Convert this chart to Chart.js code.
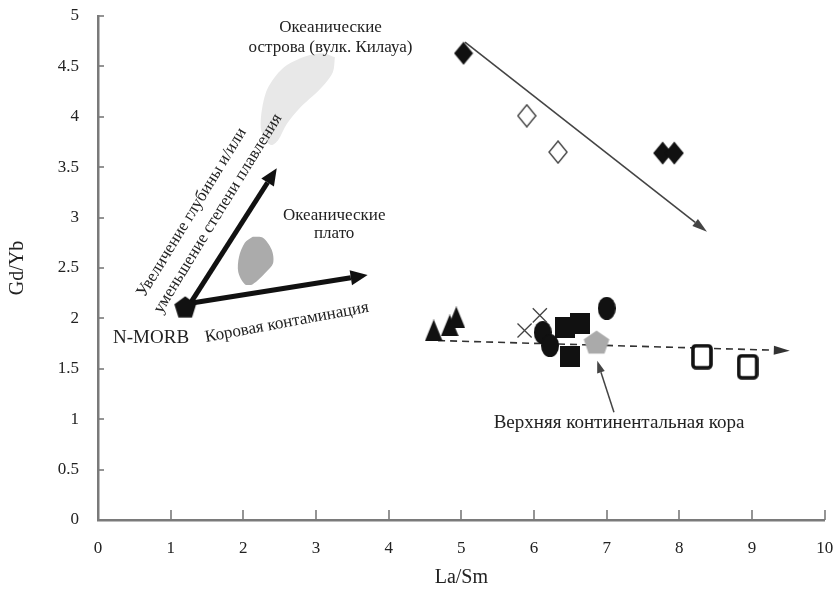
<!DOCTYPE html>
<html>
<head>
<meta charset="utf-8">
<script src="https://cdn.jsdelivr.net/npm/chart.js@4.4.1/dist/chart.umd.min.js"></script>
<style>
  html, body { margin: 0; background: #fff; }
</style>
</head>
<body>
<canvas id="chart" width="836" height="592"></canvas>
<script>
// --- data (La/Sm vs Gd/Yb) ---
const xTicks = [0, 1, 2, 3, 4, 5, 6, 7, 8, 9, 10];
const yTickLabels = ['0', '0.5', '1', '1.5', '2', '2.5', '3', '3.5', '4', '4.5', '5'];

const filledDiamondX = [5.03, 7.77, 7.93];
const filledDiamondY = [4.63, 3.64, 3.64];
const openDiamondX = [5.90, 6.33];
const openDiamondY = [4.01, 3.65];
const triangleX = [4.62, 4.84, 4.93];
const triangleY = [1.88, 1.93, 2.01];
const crossX = [5.87, 6.08];
const crossY = [1.88, 2.03];
const circleX = [6.12, 6.22, 7.00];
const circleY = [1.86, 1.73, 2.10];
const squareX = [6.43, 6.63, 6.49];
const squareY = [1.91, 1.95, 1.62];
const openSquareX = [8.31, 8.94];
const openSquareY = [1.62, 1.52];
const uccX = [6.86];          // upper continental crust
const uccY = [1.76];
const nmorbX = [1.20];
const nmorbY = [2.11];

// fields
const islandX = [3.26, 3.09, 2.82, 2.54, 2.34, 2.26, 2.24, 2.30, 2.39, 2.48, 2.60, 2.78, 3.05, 3.23, 3.26];
const islandY = [4.59, 4.63, 4.59, 4.48, 4.29, 4.09, 3.89, 3.77, 3.72, 3.77, 3.93, 4.09, 4.27, 4.44, 4.59];
const plateauX = [2.13, 2.27, 2.39, 2.41, 2.30, 2.13, 2.02, 1.93, 1.94, 2.02, 2.13];
const plateauY = [2.81, 2.80, 2.68, 2.55, 2.45, 2.34, 2.34, 2.46, 2.61, 2.75, 2.81];

// arrows [x1, y1, x2, y2]
const meltArrow = [1.27, 2.15, 2.46, 3.49];
const crustArrow = [1.27, 2.15, 3.71, 2.43];
const diamondTrend = [5.05, 4.74, 8.38, 2.86];
const dashedTrend = [4.68, 1.78, 9.52, 1.68];
const uccPointer = [7.10, 1.07, 6.87, 1.58];

// annotations: text, x, y, rotation (deg), font size
const noteText = ['Океанические', 'острова (вулк. Килауа)', 'Океанические', 'плато', 'N-MORB',
  'Увеличение глубины и/или', 'уменьшение степени плавления', 'Коровая контаминация',
  'Верхняя континентальная кора'];
const noteX = [3.20, 3.20, 3.25, 3.25, 0.73, 1.29, 1.65, 2.60, 7.17];
const noteY = [4.89, 4.69, 3.02, 2.84, 1.81, 3.05, 3.04, 1.96, 0.96];
const noteRot = [0, 0, 0, 0, 0, -58.5, -58.5, -10.5, 0];
const noteSize = [17, 17, 17, 17, 19, 17, 17, 17, 19];

const pts = (xs, ys) => xs.map((x, i) => ({ x: x, y: ys[i] }));

// marker images
function marker(w, h, draw) {
  const c = document.createElement('canvas');
  c.width = w; c.height = h;
  draw(c.getContext('2d'), w, h);
  return c;
}
function poly(g, p) {
  g.beginPath();
  g.moveTo(p[0][0], p[0][1]);
  for (let i = 1; i < p.length; i++) g.lineTo(p[i][0], p[i][1]);
  g.closePath();
}
function pentagon(g, w, h) {
  const p = [];
  for (let k = 0; k < 5; k++) {
    const a = -Math.PI / 2 + k * 2 * Math.PI / 5;
    p.push([w / 2 + Math.cos(a) * (w / 2 - 0.5), h * 0.53 + Math.sin(a) * (h * 0.53 - 0.5)]);
  }
  poly(g, p);
}

const diamondFilled = marker(20, 24, (g, w, h) => {
  poly(g, [[w / 2, 0.5], [w - 0.5, h / 2], [w / 2, h - 0.5], [0.5, h / 2]]);
  g.fillStyle = '#111'; g.fill();
});
const diamondOpen = marker(20, 24, (g, w, h) => {
  poly(g, [[w / 2, 1], [w - 1, h / 2], [w / 2, h - 1], [1, h / 2]]);
  g.fillStyle = '#fff'; g.fill();
  g.strokeStyle = '#444'; g.lineWidth = 1.4; g.stroke();
});
const triangle = marker(18, 22, (g, w, h) => {
  poly(g, [[w / 2, 0], [w, h], [0, h]]);
  g.fillStyle = '#111'; g.fill();
});
const ellipse = marker(18, 23, (g, w, h) => {
  g.beginPath(); g.ellipse(w / 2, h / 2, w / 2, h / 2, 0, 0, Math.PI * 2);
  g.fillStyle = '#111'; g.fill();
});
const square = marker(20, 21, (g, w, h) => {
  g.fillStyle = '#111'; g.fillRect(0, 0, w, h);
});
const openSquare = marker(22, 26, (g, w, h) => {
  g.beginPath(); g.roundRect(2, 2, w - 4, h - 4, 3);
  g.fillStyle = '#fff'; g.fill();
  g.strokeStyle = '#111'; g.lineWidth = 3.6; g.stroke();
});
const uccMark = marker(28, 25, (g, w, h) => {
  pentagon(g, w, h); g.fillStyle = '#aaaaaa'; g.fill();
});
const nmorbMark = marker(24, 23, (g, w, h) => {
  pentagon(g, w, h); g.fillStyle = '#111'; g.fill();
});

function arrow(ctx, xs, ys, a, o) {
  const x1 = xs.getPixelForValue(a[0]), y1 = ys.getPixelForValue(a[1]);
  const x2 = xs.getPixelForValue(a[2]), y2 = ys.getPixelForValue(a[3]);
  const ang = Math.atan2(y2 - y1, x2 - x1);
  const bx = x2 - Math.cos(ang) * o.head, by = y2 - Math.sin(ang) * o.head;
  ctx.save();
  ctx.strokeStyle = o.color; ctx.fillStyle = o.color; ctx.lineWidth = o.width;
  ctx.setLineDash(o.dash || []);
  ctx.beginPath(); ctx.moveTo(x1, y1); ctx.lineTo(bx, by); ctx.stroke();
  ctx.setLineDash([]);
  const nx = -Math.sin(ang) * o.headW / 2, ny = Math.cos(ang) * o.headW / 2;
  ctx.beginPath();
  ctx.moveTo(x2, y2); ctx.lineTo(bx + nx, by + ny); ctx.lineTo(bx - nx, by - ny);
  ctx.closePath(); ctx.fill();
  ctx.restore();
}

const decor = {
  id: 'decor',
  beforeDatasetsDraw(chart) {
    const { ctx, scales: { x, y } } = chart;
    arrow(ctx, x, y, dashedTrend, { color: '#333', width: 1.6, head: 16, headW: 9, dash: [7, 5] });
    arrow(ctx, x, y, diamondTrend, { color: '#444', width: 1.6, head: 15, headW: 9 });
    arrow(ctx, x, y, uccPointer, { color: '#444', width: 1.5, head: 12, headW: 8 });
    arrow(ctx, x, y, meltArrow, { color: '#111', width: 5, head: 17, headW: 15 });
    arrow(ctx, x, y, crustArrow, { color: '#111', width: 5, head: 17, headW: 15 });
  },
  afterDatasetsDraw(chart) {
    const { ctx, chartArea: a, scales: { x, y } } = chart;
    ctx.save();
    // inward tick marks
    ctx.strokeStyle = '#7a7a7a'; ctx.lineWidth = 1.6;
    xTicks.forEach(v => {
      const px = Math.round(x.getPixelForValue(v));
      ctx.beginPath(); ctx.moveTo(px, a.bottom); ctx.lineTo(px, a.bottom - 10); ctx.stroke();
    });
    yTickLabels.forEach((t, i) => {
      const py = Math.round(y.getPixelForValue(i * 0.5));
      ctx.beginPath(); ctx.moveTo(a.left, py); ctx.lineTo(a.left + 6, py); ctx.stroke();
    });
    // annotations
    ctx.fillStyle = '#222';
    ctx.textAlign = 'center'; ctx.textBaseline = 'middle';
    noteText.forEach((t, i) => {
      ctx.save();
      ctx.font = noteSize[i] + 'px "Liberation Serif", serif';
      ctx.translate(x.getPixelForValue(noteX[i]), y.getPixelForValue(noteY[i]));
      ctx.rotate(noteRot[i] * Math.PI / 180);
      ctx.fillText(t, 0, 0);
      ctx.restore();
    });
    ctx.restore();
  }
};

const img = (style) => ({ pointStyle: style, pointRadius: 10, pointHoverRadius: 10, showLine: false });

new Chart(document.getElementById('chart'), {
  type: 'scatter',
  data: {
    datasets: [
      { label: 'Океанические острова', data: pts(islandX, islandY), showLine: true, fill: 'shape',
        tension: 0.3, pointRadius: 0, borderWidth: 0, borderColor: 'rgba(0,0,0,0)',
        backgroundColor: '#e8e8e8', order: 20 },
      { label: 'Океанические плато', data: pts(plateauX, plateauY), showLine: true, fill: 'shape',
        tension: 0.3, pointRadius: 0, borderWidth: 0, borderColor: 'rgba(0,0,0,0)',
        backgroundColor: '#ababab', order: 19 },
      Object.assign({ data: pts(filledDiamondX, filledDiamondY) }, img(diamondFilled)),
      Object.assign({ data: pts(openDiamondX, openDiamondY) }, img(diamondOpen)),
      Object.assign({ data: pts(triangleX, triangleY) }, img(triangle)),
      { data: pts(crossX, crossY), pointStyle: 'crossRot', pointRadius: 10, borderColor: '#444',
        borderWidth: 1.3, showLine: false },
      Object.assign({ data: pts(circleX, circleY) }, img(ellipse)),
      Object.assign({ data: pts(squareX, squareY) }, img(square)),
      Object.assign({ data: pts(openSquareX, openSquareY) }, img(openSquare)),
      Object.assign({ data: pts(uccX, uccY) }, img(uccMark)),
      Object.assign({ data: pts(nmorbX, nmorbY) }, img(nmorbMark))
    ]
  },
  options: {
    responsive: false,
    animation: false,
    layout: { padding: { top: 16, right: 11, left: 0, bottom: 0 } },
    plugins: { legend: { display: false }, tooltip: { enabled: false } },
    scales: {
      x: {
        type: 'linear', min: 0, max: 10,
        afterBuildTicks: s => { s.ticks = xTicks.map(v => ({ value: v })); },
        afterFit: s => { s.height = 72; s.paddingLeft = 0; s.paddingRight = 0; },
        grid: { drawOnChartArea: false, drawTicks: false },
        border: { color: '#7a7a7a', width: 2.5 },
        ticks: { padding: 18, color: '#222', font: { family: 'Liberation Serif', size: 17 } },
        title: { display: true, text: 'La/Sm', color: '#222', padding: { top: 0, bottom: 2 },
          font: { family: 'Liberation Serif', size: 20 } }
      },
      y: {
        type: 'linear', min: 0, max: 5,
        afterBuildTicks: s => { s.ticks = yTickLabels.map((t, i) => ({ value: i * 0.5 })); },
        afterFit: s => { s.width = 98; s.paddingTop = 0; s.paddingBottom = 0; },
        grid: { drawOnChartArea: false, drawTicks: false },
        border: { color: '#7a7a7a', width: 2.5 },
        ticks: { padding: 19, color: '#222', font: { family: 'Liberation Serif', size: 17 },
          callback: (v, i) => yTickLabels[i] },
        title: { display: true, text: 'Gd/Yb', color: '#222', padding: { top: 6, bottom: 0 },
          font: { family: 'Liberation Serif', size: 20 } }
      }
    }
  },
  plugins: [decor]
});
</script>
</body>
</html>
